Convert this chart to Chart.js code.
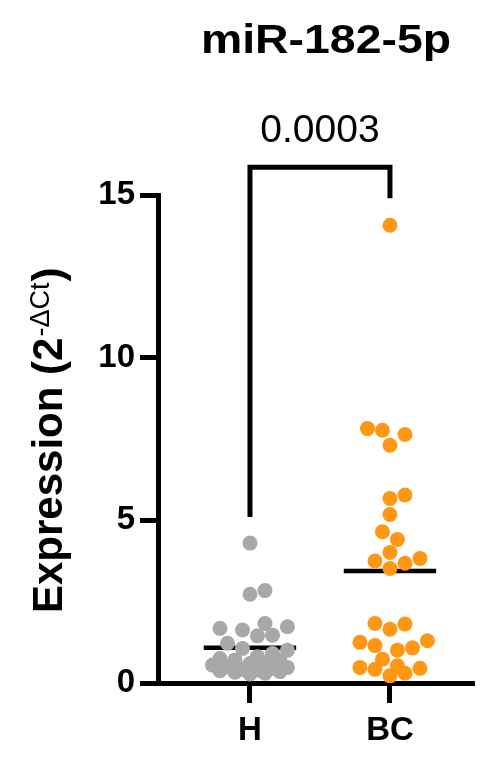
<!DOCTYPE html>
<html>
<head>
<meta charset="utf-8">
<script src="https://cdn.jsdelivr.net/npm/chart.js@4"></script>
<style>
  html, body { margin: 0; padding: 0; background: #fff; }
  #wrap { width: 483px; height: 762px; }
</style>
</head>
<body>
<div id="wrap"><canvas id="mir182"></canvas></div>
<script>
// values, expression as 2^-dCt
const groupLabels = ['H', 'BC'];
const healthy = [4.30, 2.84, 2.73, 1.83, 1.73, 1.68, 1.63, 1.47, 1.45, 1.22,
                 1.06, 1.01, 0.91, 0.81, 0.75, 0.71, 0.70, 0.62, 0.60, 0.55,
                 0.50, 0.48, 0.45, 0.42, 0.40, 0.38, 0.35, 0.33, 0.30, 0.28];
const cancer = [14.07, 7.82, 7.77, 7.64, 7.31, 5.78, 5.67, 5.18, 4.65, 4.41,
                4.01, 3.83, 3.75, 3.68, 3.52, 1.83, 1.81, 1.65, 1.30, 1.25,
                1.15, 1.08, 1.01, 0.73, 0.53, 0.48, 0.45, 0.42, 0.30, 0.22];
const yTicks = [0, 5, 10, 15];
const pValue = '0.0003';

const FONT = "'Liberation Sans', Arial, sans-serif";
const GREY = 'rgb(168, 168, 168)';
const ORANGE = 'rgb(255, 150, 20)';
const DOT = 7.5;

const mean = arr => arr.reduce((a, b) => a + b, 0) / arr.length;
const column = (vals, c) => vals.map(v => ({ x: c, y: v }));
const meanBar = (vals, c) => [{ x: c - 0.33, y: mean(vals) }, { x: c + 0.33, y: mean(vals) }];

Chart.defaults.font.family = FONT;
Chart.defaults.color = '#000';

// title, p value and the y title with its superscript
const textPlugin = {
  id: 'texts',
  afterDraw(chart) {
    const ctx = chart.ctx;
    ctx.save();
    ctx.fillStyle = '#000';
    ctx.textAlign = 'center';
    ctx.textBaseline = 'alphabetic';

    ctx.save();
    ctx.font = 'bold 40px ' + FONT;
    ctx.translate(326, 53);
    ctx.scale(1.16, 1);
    ctx.fillText('miR-182-5p', 0, 0);
    ctx.restore();

    ctx.font = '39px ' + FONT;
    ctx.fillText(pValue, chart.scales.x.getPixelForValue(1.5), 142);

    ctx.translate(62, 613);
    ctx.rotate(-Math.PI / 2);
    ctx.textAlign = 'left';
    let pos = 0;
    ctx.font = 'bold 42px ' + FONT;
    ctx.fillText('Expression (2', pos, 0);
    pos += ctx.measureText('Expression (2').width;
    ctx.font = '27px ' + FONT;
    ctx.fillText('-\u0394Ct', pos + 1, -13);
    pos += ctx.measureText('-\u0394Ct').width + 2;
    ctx.font = 'bold 42px ' + FONT;
    ctx.fillText(')', pos, 0);
    ctx.restore();
  }
};

const chart = new Chart('mir182', {
  type: 'scatter',
  data: {
    datasets: [
      {
        label: groupLabels[0],
        data: column(healthy, 1),
        backgroundColor: GREY,
        pointRadius: DOT,
        pointHoverRadius: DOT,
        borderWidth: 0,
        order: 1
      },
      {
        label: groupLabels[1],
        data: column(cancer, 2),
        backgroundColor: ORANGE,
        pointRadius: DOT,
        pointHoverRadius: DOT,
        borderWidth: 0,
        order: 1
      },
      {
        type: 'line',
        label: 'mean H',
        data: meanBar(healthy, 1),
        borderColor: '#000',
        borderWidth: 4.5,
        pointRadius: 0,
        order: 2
      },
      {
        type: 'line',
        label: 'mean BC',
        data: meanBar(cancer, 2),
        borderColor: '#000',
        borderWidth: 4.5,
        pointRadius: 0,
        order: 2
      },
      {
        // significance bracket
        type: 'line',
        label: 'bracket',
        data: [{ x: 1, y: 5.1 }, { x: 1, y: 15.85 }, { x: 2, y: 15.85 }, { x: 2, y: 14.9 }],
        borderColor: '#000',
        borderWidth: 5,
        borderJoinStyle: 'miter',
        pointRadius: 0,
        clip: false,
        order: 3
      }
    ]
  },
  options: {
    responsive: true,
    maintainAspectRatio: false,
    animation: false,
    layout: { padding: { top: 195, right: 11, bottom: 0, left: 0 } },
    plugins: {
      legend: { display: false },
      tooltip: { enabled: false }
    },
    scales: {
      x: {
        type: 'linear',
        min: 0.343,
        max: 2.586,
        afterFit(scale) { scale.height = 79; },
        afterBuildTicks(scale) { scale.ticks = [{ value: 1 }, { value: 2 }]; },
        ticks: {
          callback: v => groupLabels[v - 1],
          font: { size: 33, weight: 'bold' },
          padding: 8,
          maxRotation: 0
        },
        grid: { drawOnChartArea: false, drawTicks: true, tickLength: 20, lineWidth: 5, color: '#000' },
        border: { display: true, width: 5, color: '#000' }
      },
      y: {
        min: 0,
        max: 15,
        afterFit(scale) { scale.width = 158; },
        afterBuildTicks(scale) { scale.ticks = yTicks.map(v => ({ value: v })); },
        ticks: {
          font: { size: 33, weight: 'bold' },
          padding: 5
        },
        grid: { drawOnChartArea: false, drawTicks: true, tickLength: 18, lineWidth: 5, color: '#000' },
        border: { display: true, width: 5, color: '#000' }
      }
    }
  },
  plugins: [textPlugin]
});

// spread each column sideways like a beeswarm, using the real pixel scales
function swarm(values, center, maxSteps) {
  const xs = chart.scales.x, ys = chart.scales.y;
  const unit = xs.getPixelForValue(center + 1) - xs.getPixelForValue(center);
  const step = DOT;
  const dia = DOT * 2;
  const cand = [0];
  for (let k = 1; k <= maxSteps; k++) cand.push(k, -k);
  const order = values.map((v, i) => i).sort((a, b) => values[a] - values[b]);
  const placed = [];
  const out = new Array(values.length);
  order.forEach(i => {
    const py = ys.getPixelForValue(values[i]);
    let best = 0, bestDist = -1;
    for (const k of cand) {
      const px = k * step;
      let dmin = Infinity;
      placed.forEach(p => { dmin = Math.min(dmin, Math.hypot(p.x - px, p.y - py)); });
      if (dmin >= dia) { best = k; break; }
      if (dmin > bestDist) { bestDist = dmin; best = k; }
    }
    placed.push({ x: best * step, y: py });
    out[i] = { x: center + best * step / unit, y: values[i] };
  });
  return out;
}

chart.data.datasets[0].data = swarm(healthy, 1, 5);
chart.data.datasets[1].data = swarm(cancer, 2, 5);
chart.update('none');
</script>
</body>
</html>
